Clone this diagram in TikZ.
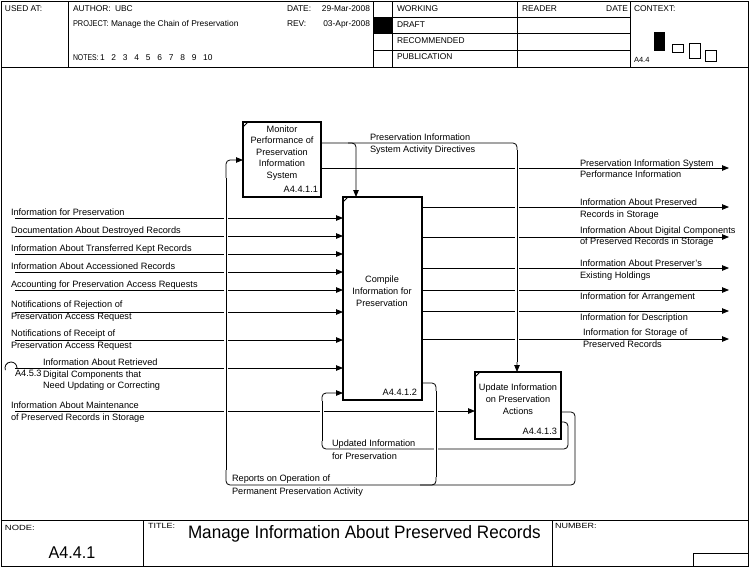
\documentclass[tikz,border=0pt]{standalone}
\usepackage{fontspec}
\setmainfont{Liberation Sans}
\usetikzlibrary{arrows.meta}
\begin{document}
\begin{tikzpicture}[x=1pt,y=-1pt,
  every node/.style={inner sep=0pt, outer sep=0pt},
  frame/.style={line width=0.8pt},
  ln/.style={line width=0.8pt, rounded corners=4pt},
  arr/.style={ln, -{Triangle[length=7pt,width=5.5pt]}},
  halo/.style={line width=0.8pt, preaction={draw=white, line width=4pt}},
  box/.style={draw, line width=1.6pt, anchor=north west},
  lbl/.style={font=\fontsize{9.2}{11.7}\selectfont, align=left, anchor=base west},
  lblc/.style={font=\fontsize{9.2}{11.6}\selectfont, align=center, anchor=base},
  lblr/.style={font=\fontsize{9.2}{11.6}\selectfont, anchor=base east},
  hdr/.style={font=\fontsize{8.4}{11}\selectfont, anchor=base west},
  small/.style={font=\fontsize{7.5}{9}\selectfont, anchor=base west}
]
\useasboundingbox (0,0) rectangle (750,568);
% ---------- frame ----------
\draw[frame] (1,1) rectangle (748,566);
\draw[frame] (1,67) -- (748,67);
\draw[frame] (68,1) -- (68,67);
\draw[frame] (373,1) -- (373,67);
\draw[frame] (392,1) -- (392,67);
\draw[frame] (517,1) -- (517,67);
\draw[frame] (630,1) -- (630,67);
\draw[frame] (373,17) -- (630,17);
\draw[frame] (373,33) -- (630,33);
\draw[frame] (373,50) -- (630,50);
\fill (373,17) rectangle (392,33);
\draw[frame] (1,520) -- (748,520);
\draw[frame] (143.5,520) -- (143.5,566);
\draw[frame] (552,520) -- (552,566);
\draw[frame] (693,553) rectangle (748,566);
% context
\fill (654,32) rectangle (665,51);
\draw[frame] (672,44) rectangle (683,52);
\draw[frame] (689,43) rectangle (700,58);
\draw[frame] (705,50) rectangle (716,61);
% header texts
\node[hdr] (usedat) at (5,11.5) {USED AT:};
\node[hdr] (author) at (73,11.5) {AUTHOR:};
\node[hdr] (authorv) at (115,11.5) {UBC};
\node[hdr] (project) at (73,26.5) {\scalebox{0.88}[1]{PROJECT:}};
\node[hdr] (projectv) at (111,26.5) {Manage the Chain of Preservation};
\node[hdr] (notes) at (73,60.5) {\scalebox{0.82}[1]{NOTES:}};
\node[hdr] (notesv) at (100,60.5) {1\hspace{6.8pt}2\hspace{6.8pt}3\hspace{6.8pt}4\hspace{6.8pt}5\hspace{6.8pt}6\hspace{6.8pt}7\hspace{6.8pt}8\hspace{6.8pt}9\hspace{6.8pt}10};
\node[hdr] (date) at (287,11.5) {DATE:};
\node[hdr, anchor=base east] (datev) at (370,11.5) {29-Mar-2008};
\node[hdr] (rev) at (287,26.5) {REV:};
\node[hdr, anchor=base east] (revv) at (370,26.5) {03-Apr-2008};
\node[hdr] (working) at (397,11.5) {WORKING};
\node[hdr] (draft) at (397,27.5) {DRAFT};
\node[hdr] (recomm) at (397,43.5) {RECOMMENDED};
\node[hdr] (publ) at (397,59.5) {PUBLICATION};
\node[hdr] (reader) at (522,11.5) {READER};
\node[hdr, anchor=base east] (rdate) at (628,11.5) {DATE};
\node[hdr] (context) at (634,11.5) {CONTEXT:};
\node[small] (ctxnode) at (634,62) {A4.4};
% footer texts
\node[small] (nodelbl) at (5,530) {\scalebox{1.25}[1]{NODE:}};
\node[small] (titlelbl) at (148,528) {\scalebox{1.2}[1]{TITLE:}};
\node[small] (numlbl) at (555,528) {\scalebox{1.2}[1]{NUMBER:}};
\node[anchor=base west] (title) at (188,538.5) {\scalebox{0.95}[1]{\fontsize{18}{20}\selectfont Manage Information About Preserved Records}};
\node[anchor=base] (nodenum) at (72,558) {\scalebox{0.95}[1]{\fontsize{17}{20}\selectfont A4.4.1}};
% ---------- boxes ----------
\node[box, minimum width=78pt, minimum height=75pt] (b1) at (243,122) {};
\node[box, minimum width=79pt, minimum height=203pt] (b2) at (343,197) {};
\node[box, minimum width=86pt, minimum height=67pt] (b3) at (475,372) {};
\foreach \b in {b1,b2,b3}
  \draw[line width=0.8pt] ([yshift=-5pt]\b.north west) -- ([xshift=5pt]\b.north west);
\node[lblc] (t1) at (282,178.5) {Monitor\\Performance of\\Preservation\\Information\\System};
\node[lblr] (n1) at (318,192.5) {A4.4.1.1};
\node[lblc] (t2) at (382,306) {Compile\\Information for\\Preservation};
\node[lblr] (n2) at (417,395.5) {A4.4.1.2};
\node[lblc] (t3) at (518,414) {Update Information\\on Preservation\\Actions};
\node[lblr] (n3) at (557,434.5) {A4.4.1.3};
% ---------- inputs ----------
\foreach \y in {218,236,254,272,290,312,340,368}{
  \coordinate (in\y) at (15,\y);
  \draw[arr] (in\y) -- (in\y -| b2.west);
}
\coordinate (inM) at (15,411);
\draw[arr] (inM) -- (inM -| b3.west);
\draw[line width=0.8pt] (17,368) arc[start angle=0, end angle=-200, radius=6];
% ---------- outputs ----------
\foreach \y in {207,237,268,290,311,339}{
  \coordinate (out\y) at (729,\y);
  \draw[arr] (out\y -| b2.east) -- (out\y);
}
\coordinate (outP) at (729,168);
\draw[arr] (outP -| b1.east) -- (outP);
% ---------- controls / feedback ----------
\coordinate (c1) at (517,143);
\draw[arr] (c1 -| b1.east) -- (c1) -- (c1 |- b3.north);
\coordinate (c2) at (356,143);
\draw[arr] ([xshift=-8pt]c2) -- (c2) -- (c2 |- b2.north);
\coordinate (fb) at (226,485);
\draw[arr] (b3.east |- 0,412) -- (575,412) -- (575,485) -- (fb) -- (226,160) -- (b1.west |- 0,160);
\draw[ln] (b2.east |- 0,383) -- (436,383) -- (436,485) -- (420,485);
\draw[arr] (b3.east |- 0,422) -- (568,422) -- (568,449) -- (322,449) -- (322,393) -- (b2.west |- 0,393);
% crossings
\draw[halo] (226,178) -- (226,470);
\draw[halo] (517,150) -- (517,362);
\draw[halo] (322,401) -- (322,441);
\draw[halo] (436,391) -- (436,477);
% ---------- labels ----------
\node[lbl] (l1) at (11,215.3) {Information for Preservation};
\node[lbl] (l2) at (11,233.3) {Documentation About Destroyed Records};
\node[lbl] (l3) at (11,251.3) {Information About Transferred Kept Records};
\node[lbl] (l4) at (11,269.3) {Information About Accessioned Records};
\node[lbl] (l5) at (11,287.3) {Accounting for Preservation Access Requests};
\node[lbl] (l6) at (11,319) {Notifications of Rejection of\\Preservation Access Request};
\node[lbl] (l7) at (11,348) {Notifications of Receipt of\\Preservation Access Request};
\node[lbl] (l8) at (43,388.7) {Information About Retrieved\\Digital Components that\\Need Updating or Correcting};
\node[lbl] (tun) at (15,376.3) {A4.5.3};
\node[lbl] (l9) at (11,420) {Information About Maintenance\\of Preserved Records in Storage};
\node[lbl] (r0) at (580,177.7) {Preservation Information System\\Performance Information};
\node[lbl] (r1) at (580,217.2) {Information About Preserved\\Records in Storage};
\node[lbl] (r2) at (580,244.7) {Information About Digital Components\\of Preserved Records in Storage};
\node[lbl] (r3) at (580,278.2) {Information About Preserver's\\Existing Holdings};
\node[lbl] (r4) at (580,299.5) {Information for Arrangement};
\node[lbl] (r5) at (580,320.5) {Information for Description};
\node[lbl] (r6) at (583,347.2) {Information for Storage of\\Preserved Records};
\node[lbl] (ctl) at (370,152.2) {Preservation Information\\System Activity Directives};
\node[lbl, font=\fontsize{9.2}{12.8}\selectfont] (upd) at (332,459.3) {Updated Information\\for Preservation};
\node[lbl, font=\fontsize{9.2}{12.8}\selectfont] (rep) at (232,494.3) {Reports on Operation of\\Permanent Preservation Activity};
\end{tikzpicture}
\end{document}
